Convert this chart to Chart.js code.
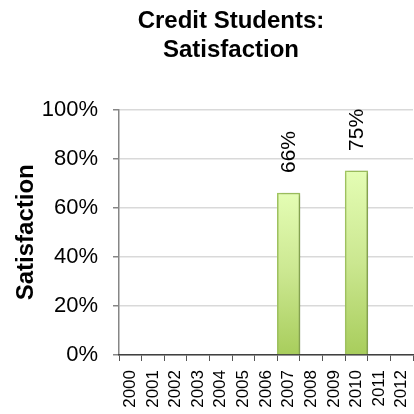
<!DOCTYPE html>
<html>
<head>
<meta charset="utf-8">
<script src="https://cdn.jsdelivr.net/npm/chart.js@4"></script>
<style>
  html, body { margin: 0; padding: 0; background: #fff; }
  #wrap { width: 414px; height: 414px; }
</style>
</head>
<body>
<div id="wrap"><canvas id="myChart" width="414" height="414"></canvas></div>
<script>
const years = ['2000','2001','2002','2003','2004','2005','2006','2007','2008','2009','2010','2011','2012'];
const satisfaction = [null, null, null, null, null, null, null, 66, null, null, 75, null, null];
const yTicks = [0, 20, 40, 60, 80, 100];

const fontFamily = "'Liberation Sans', Arial, sans-serif";

// soft shadow behind the bars only
const barShadow = {
    id: 'barShadow',
    beforeDatasetDraw(chart) {
        const ctx = chart.ctx;
        ctx.save();
        ctx.shadowColor = 'rgba(0,0,0,0.25)';
        ctx.shadowBlur = 4;
        ctx.shadowOffsetX = 2;
        ctx.shadowOffsetY = 1;
    },
    afterDatasetDraw(chart) {
        chart.ctx.restore();
    }
};

// vertical value labels above the bars
const barLabels = {
    id: 'barLabels',
    afterDatasetsDraw(chart) {
        const ctx = chart.ctx;
        const meta = chart.getDatasetMeta(0);
        ctx.save();
        ctx.shadowColor = 'rgba(0,0,0,0)';
        ctx.fillStyle = '#000';
        ctx.font = '21px ' + fontFamily;
        ctx.textAlign = 'left';
        ctx.textBaseline = 'middle';
        meta.data.forEach((bar, i) => {
            const v = satisfaction[i];
            if (v === null) return;
            ctx.save();
            ctx.translate(bar.x + 1, bar.y - 20);
            ctx.rotate(-Math.PI / 2);
            ctx.fillText(v + '%', 0, 0);
            ctx.restore();
        });
        ctx.restore();
    }
};

// shift the title a bit off the canvas centre
const titleShift = {
    id: 'titleShift',
    afterLayout(chart) {
        const t = chart.titleBlock;
        if (t) {
            t.left = 48;
            t.right = 414;
            t.width = 366;
        }
    }
};

const ctx = document.getElementById('myChart');
const myChart = new Chart(ctx, {
    type: 'bar',
    data: {
        labels: years,
        datasets: [{
            data: satisfaction,
            backgroundColor: function(context) {
                const chart = context.chart;
                const area = chart.chartArea;
                if (!area || context.raw === null || context.raw === undefined) return '#c8e68c';
                const top = chart.scales.y.getPixelForValue(context.raw);
                const g = chart.ctx.createLinearGradient(0, top, 0, area.bottom);
                g.addColorStop(0, '#e4fdb4');
                g.addColorStop(0.5, '#cbe790');
                g.addColorStop(1, '#a8cd5c');
                return g;
            },
            borderColor: '#a3c762',
            borderWidth: 1.5,
            barPercentage: 1,
            categoryPercentage: 1
        }]
    },
    options: {
        responsive: false,
        animation: false,
        layout: {
            padding: { left: 0, right: 1, top: 0, bottom: 0 }
        },
        plugins: {
            legend: { display: false },
            tooltip: { enabled: false },
            title: {
                display: true,
                text: ['Credit Students:', 'Satisfaction'],
                color: '#000',
                font: { family: fontFamily, size: 24, weight: 'bold', lineHeight: 1.2 },
                padding: { top: 7, bottom: 45 }
            }
        },
        scales: {
            y: {
                min: 0,
                max: 100,
                afterBuildTicks: function(scale) {
                    scale.ticks = yTicks.map(v => ({ value: v }));
                },
                afterFit: function(scale) {
                    scale.width = 119;
                },
                ticks: {
                    color: '#000',
                    padding: 15,
                    font: { family: fontFamily, size: 22 },
                    callback: v => v + '%'
                },
                grid: {
                    color: '#d9d9d9',
                    tickColor: '#868686',
                    tickLength: 6,
                    lineWidth: 1.5
                },
                border: { color: '#868686', width: 1.5 },
                title: {
                    display: true,
                    text: 'Satisfaction',
                    color: '#000',
                    font: { family: fontFamily, size: 24, weight: 'bold', lineHeight: 1.2 },
                    padding: { top: 12, bottom: 0 }
                }
            },
            x: {
                offset: true,
                afterFit: function(scale) {
                    scale.height = 59;
                    scale.paddingLeft = 0;
                    scale.paddingRight = 0;
                },
                ticks: {
                    color: '#000',
                    padding: 9,
                    minRotation: 90,
                    maxRotation: 90,
                    autoSkip: false,
                    font: { family: fontFamily, size: 17 }
                },
                grid: {
                    drawOnChartArea: false,
                    offset: true,
                    color: '#555',
                    tickLength: 6
                },
                border: { color: '#404040', width: 1.5 }
            }
        }
    },
    plugins: [barShadow, barLabels, titleShift]
});
</script>
</body>
</html>
